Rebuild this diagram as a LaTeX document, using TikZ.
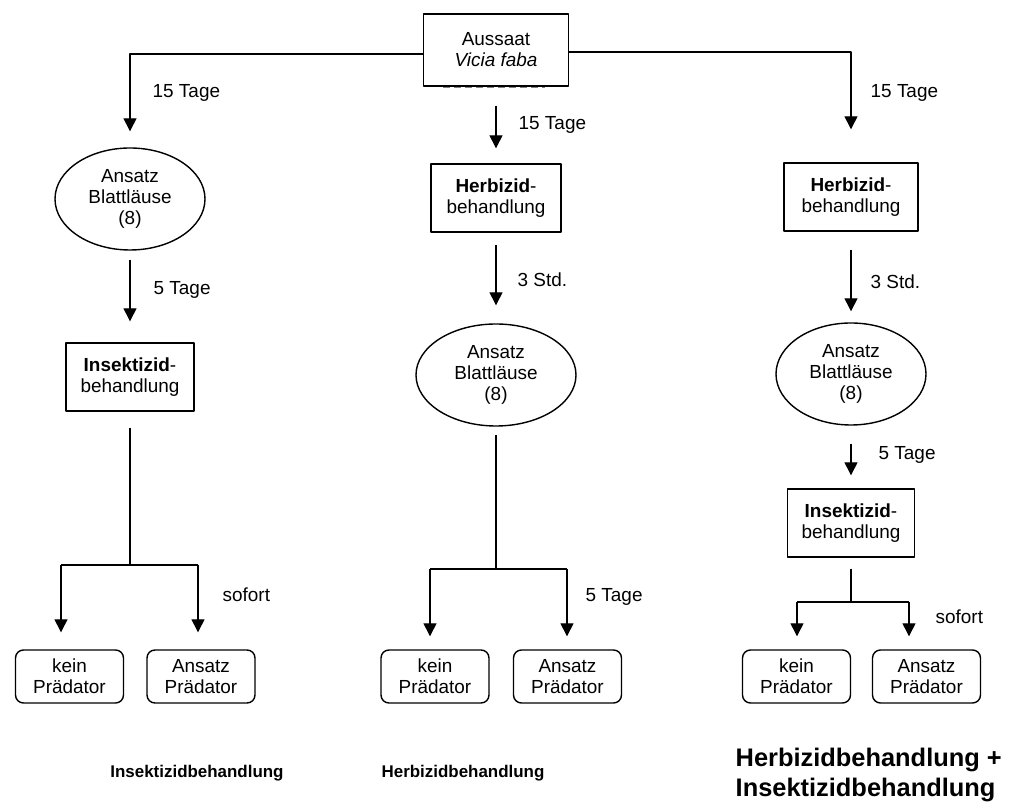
\documentclass[tikz,border=0pt]{standalone}
\usepackage{fontspec}
\setmainfont{Liberation Sans}
\usetikzlibrary{arrows.meta}
\usetikzlibrary{shapes}

\begin{document}
\begin{tikzpicture}[>={Triangle[length=13bp,width=13bp]},line join=bevel,line width=1.4bp,
  every node/.style={font=\fontsize{19}{21}\selectfont,align=center,inner sep=0pt},
  kasten/.style={draw,rectangle,minimum width=130bp,minimum height=68bp},
  oval/.style={draw,ellipse,minimum width=150bp,minimum height=102bp},
  rund/.style={draw,rectangle,rounded corners=8bp,minimum width=108bp,minimum height=53bp},
  marke/.style={anchor=west},
  titel/.style={font=\fontsize{17}{20}\selectfont\bfseries},
  titelgross/.style={font=\fontsize{25.5}{30}\selectfont\bfseries,align=left,anchor=west},
]
\useasboundingbox (0bp,0bp) rectangle (1010bp,805bp);
%%
\node (node_saat) at (496bp,755bp) [kasten,minimum width=145bp,minimum height=72bp] {Aussaat\\\textit{Vicia faba}};
  \node (node_lausL) at (130bp,606bp) [oval] {Ansatz\\Blattläuse\\(8)};
  \node (node_insL) at (130bp,428bp) [kasten,minimum width=128bp] {\textbf{Insektizid}-\\behandlung};
  \node (node_keinL) at (69.5bp,128.5bp) [rund] {kein\\Prädator};
  \node (node_praeL) at (201bp,128.5bp) [rund] {Ansatz\\Prädator};
  \node (node_herbM) at (496bp,607bp) [kasten] {\textbf{Herbizid}-\\behandlung};
  \node (node_lausM) at (496bp,430bp) [oval,minimum width=160bp] {Ansatz\\Blattläuse\\(8)};
  \node (node_keinM) at (435bp,128.5bp) [rund] {kein\\Prädator};
  \node (node_praeM) at (567.5bp,128.5bp) [rund] {Ansatz\\Prädator};
  \node (node_herbR) at (851bp,608bp) [kasten,minimum width=134bp] {\textbf{Herbizid}-\\behandlung};
  \node (node_lausR) at (851bp,431bp) [oval] {Ansatz\\Blattläuse\\(8)};
  \node (node_insR) at (851bp,282bp) [kasten,minimum width=127bp] {\textbf{Insektizid}-\\behandlung};
  \node (node_keinR) at (796.5bp,128.5bp) [rund] {kein\\Prädator};
  \node (node_praeR) at (926.5bp,128.5bp) [rund] {Ansatz\\Prädator};
%
  \node (lab_tageL1) at (152bp,712bp) [marke] {15 Tage};
  \node (lab_tageL2) at (153bp,515bp) [marke] {5 Tage};
  \node (lab_sofL) at (222bp,210bp) [marke] {sofort};
  \node (lab_tageM1) at (518bp,680bp) [marke] {15 Tage};
  \node (lab_stdM) at (517bp,525bp) [marke] {3 Std.};
  \node (lab_tageM2) at (585bp,208bp) [marke] {5 Tage};
  \node (lab_tageR1) at (870bp,712bp) [marke] {15 Tage};
  \node (lab_stdR) at (870bp,523bp) [marke] {3 Std.};
  \node (lab_tageR2) at (878bp,350bp) [marke] {5 Tage};
  \node (lab_sofR) at (935bp,188bp) [marke] {sofort};
%
  \node (titel_L) at (197bp,32bp) [titel] {Insektizidbehandlung};
  \node (titel_M) at (463bp,32bp) [titel] {Herbizidbehandlung};
  \node (titel_R) at (735bp,30bp) [titelgross] {Herbizidbehandlung +\\Insektizidbehandlung};
%
  \coordinate (br_L) at (130bp,240bp);
  \coordinate (br_L1) at (61bp,240bp);
  \coordinate (br_L2) at (198bp,240bp);
  \coordinate (br_M) at (496bp,236bp);
  \coordinate (br_M1) at (430bp,236bp);
  \coordinate (br_M2) at (567bp,236bp);
  \coordinate (br_R) at (851bp,203bp);
  \coordinate (br_R1) at (797bp,203bp);
  \coordinate (br_R2) at (909bp,203bp);
%
  \draw [gray,line width=1bp,dash pattern=on 7bp off 4bp] (443bp,717bp) -- (545bp,717bp);
%
  \draw [->,shorten >=16bp] ([yshift=-4bp]node_saat.west) -| (node_lausL.north);
  \draw [->,shorten <=9bp,shorten >=21bp] (node_lausL.south) -- (node_insL.north);
  \draw [shorten <=16bp] (node_insL.south) -- (br_L);
  \draw (br_L1) -- (br_L2);
  \draw [->,shorten >=17bp] (br_L1) -- (br_L1 |- node_keinL.north);
  \draw [->,shorten >=17bp] (br_L2) -- (br_L2 |- node_praeL.north);
%
  \draw [->,shorten <=19bp,shorten >=15bp] (node_saat.south) -- (node_herbM.north);
  \draw [->,shorten <=12bp,shorten >=18bp] (node_herbM.south) -- (node_lausM.north);
  \draw [shorten <=8bp] (node_lausM.south) -- (br_M);
  \draw (br_M1) -- (br_M2);
  \draw [->,shorten >=13bp] (br_M1) -- (br_M1 |- node_keinM.north);
  \draw [->,shorten >=13bp] (br_M2) -- (br_M2 |- node_praeM.north);
%
  \draw [->,shorten >=33bp] ([yshift=-2bp]node_saat.east) -| (node_herbR.north);
  \draw [->,shorten <=18bp,shorten >=11bp] (node_herbR.south) -- (node_lausR.north);
  \draw [->,shorten <=18bp,shorten >=13bp] (node_lausR.south) -- (node_insR.north);
  \draw [shorten <=11bp] (node_insR.south) -- (br_R);
  \draw (br_R1) -- (br_R2);
  \draw [->,shorten >=13bp] (br_R1) -- (br_R1 |- node_keinR.north);
  \draw [->,shorten >=13bp] (br_R2) -- (br_R2 |- node_praeR.north);
%
\end{tikzpicture}
\end{document}
